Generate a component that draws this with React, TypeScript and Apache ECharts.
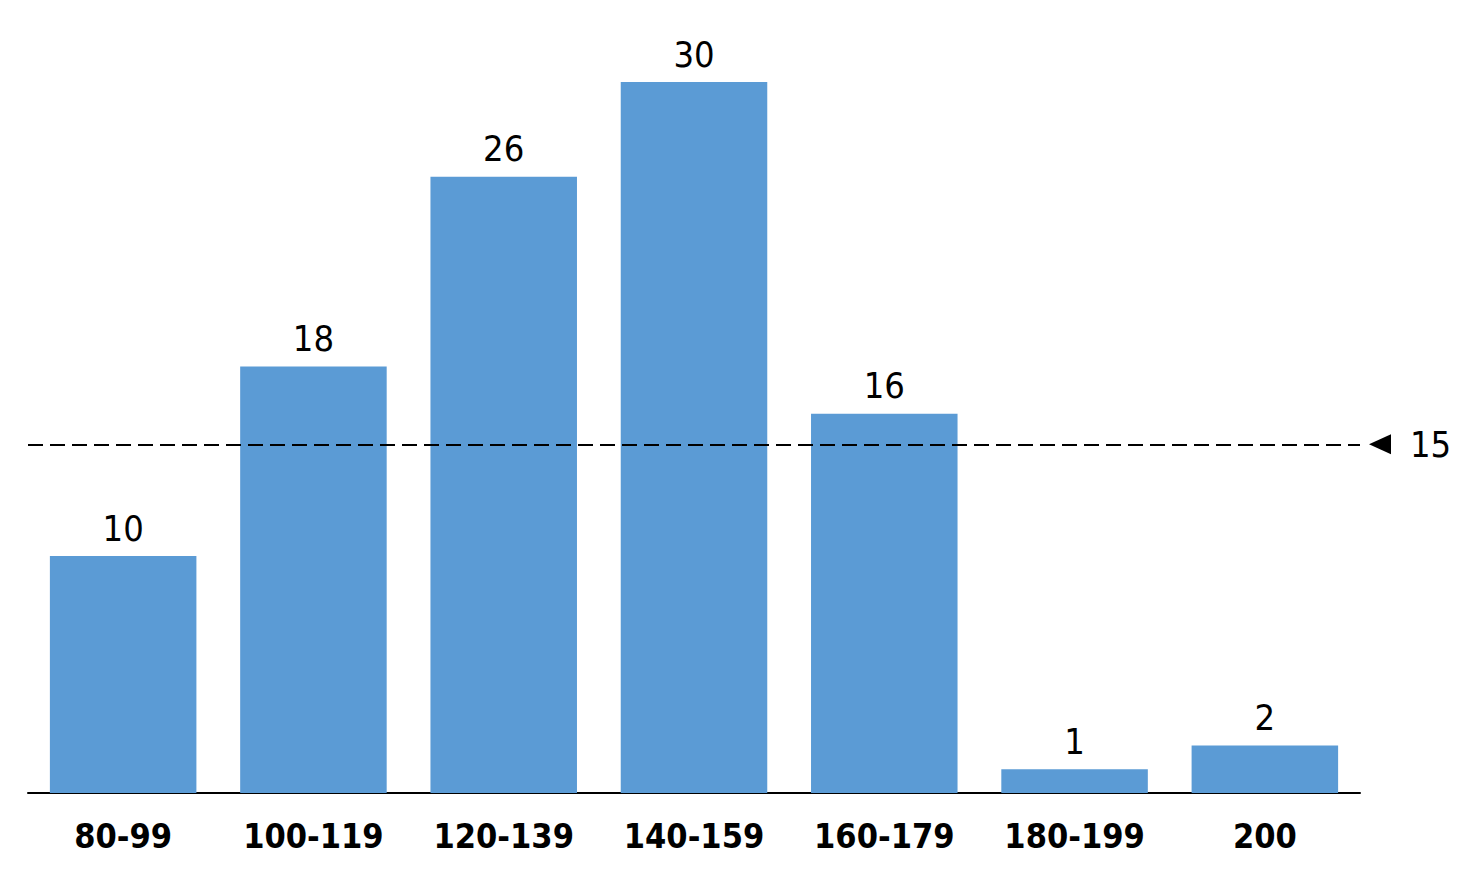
import React, { useEffect, useRef } from "react";
import * as echarts from "echarts";

const categories = ["80-99", "100-119", "120-139", "140-159", "160-179", "180-199", "200"];
const counts = [10, 18, 26, 30, 16, 1, 2];
const yMax = 30;

const FONT = "'DejaVu Sans Condensed', 'DejaVu Sans', Tahoma, sans-serif";

export default function App() {
  const ref = useRef<HTMLDivElement>(null);
  useEffect(() => {
    if (!ref.current) return;
    const chart = echarts.init(ref.current, null, { renderer: "svg" });
    chart.setOption({
      animation: false,
      grid: { left: 20, right: 108, top: 74, bottom: 74 },
      xAxis: {
        type: "category",
        data: categories,
        axisLine: { show: true, lineStyle: { color: "#000", width: 2 } },
        axisTick: { show: false },
        axisLabel: {
          color: "#000",
          fontWeight: "bold",
          fontSize: 34,
          fontFamily: FONT,
          margin: 26,
        },
      },
      yAxis: {
        type: "value",
        min: 0,
        max: yMax,
        show: false,
        splitLine: { show: false },
      },
      series: [
        {
          type: "bar",
          data: counts,
          barCategoryGap: "23%",
          itemStyle: { color: "#5B9BD5" },
          label: {
            show: true,
            position: "top",
            distance: 10,
            color: "#000",
            fontSize: 36,
            fontFamily: FONT,
          },
          markLine: {
            silent: true,
            symbol: ["none", "triangle"],
            symbolSize: [20, 22],
            symbolRotate: [0, 90],
            symbolOffset: [0, [0, 20]],
            lineStyle: { color: "#000", type: [15, 7], width: 2 },
            label: {
              show: true,
              position: "end",
              distance: 50,
              color: "#000",
              fontSize: 36,
              fontFamily: FONT,
              formatter: (p: any) => String(Math.round(p.value)),
            },
            data: [{ type: "average" }],
          },
        },
      ],
    });
    return () => chart.dispose();
  }, []);
  return <div ref={ref} style={{ width: 1460, height: 859 }} />;
}
